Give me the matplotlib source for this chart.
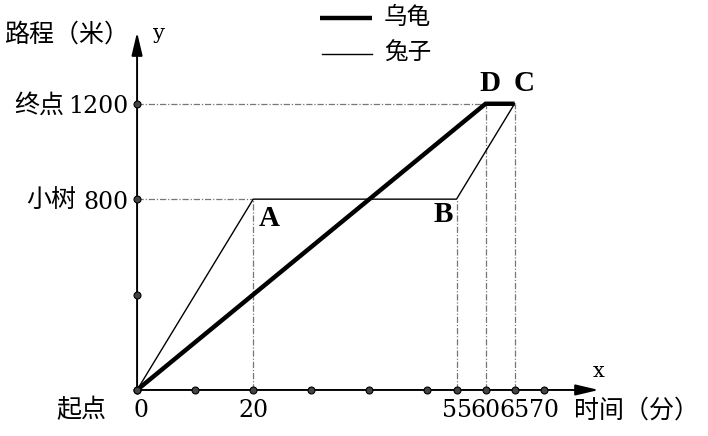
import matplotlib.pyplot as plt

plt.rcParams['font.family'] = ['Noto Sans CJK SC', 'DejaVu Sans']

# data
tortoise_t = [0, 60, 65]
tortoise_s = [0, 1200, 1200]
rabbit_t = [0, 20, 55, 65]
rabbit_s = [0, 800, 800, 1200]
x_dots = [0, 10, 20, 30, 40, 50, 55, 60, 65, 70]
y_dots = [0, 400, 800, 1200]
x_ticks = [20, 55, 60, 65, 70]
y_ticks = [1200, 800]
y_names = ['终点', '小树']

fig = plt.figure(figsize=(7.08, 4.36), dpi=100)
ax = fig.add_axes([0, 0, 1, 1])
ax.set_xlim(-23.6, 98.3)
ax.set_ylim(-193, 1635)
ax.axis('off')

# guide lines
guide = dict(color='#777777', lw=0.9, ls=(0, (5, 1.5, 1, 1.5)), zorder=1)
ax.plot([0, 65], [1200, 1200], **guide)
ax.plot([0, 20], [800, 800], **guide)
for t, s in [(20, 800), (55, 800), (60, 1200), (65, 1200)]:
    ax.plot([t, t], [0, s], **guide)

# axes with arrows
arrow = dict(arrowstyle='-|>,head_length=1.4,head_width=0.33',
             color='black', lw=1.4, shrinkA=0, shrinkB=0)
ax.annotate('', xy=(79.5, 0), xytext=(0, 0), arrowprops=arrow)
ax.annotate('', xy=(0, 1500), xytext=(0, 0), arrowprops=arrow)

# series
ax.plot(tortoise_t, tortoise_s, color='black', lw=3.2, solid_capstyle='butt', zorder=3)
ax.plot(rabbit_t, rabbit_s, color='black', lw=1.0, zorder=3)

# dots
ax.plot(x_dots, [0] * len(x_dots), 'o', ms=5, mfc='#444444', mec='black', mew=0.8, zorder=4)
ax.plot([0] * len(y_dots), y_dots, 'o', ms=5, mfc='#444444', mec='black', mew=0.8, zorder=4)

# text
num_font = dict(family='DejaVu Serif', fontsize=17)
cn = 18
for t in x_ticks:
    ax.text(t, -88, str(t), ha='center', va='center', **num_font)
ax.text(0.7, -88, '0', ha='center', va='center', **num_font)
ax.text(-5.3, -85, '起点', ha='right', va='center', fontsize=cn)
ax.text(75.3, -85, '时间（分）', ha='left', va='center', fontsize=cn)
ax.text(-1.3, 1490, '路程（米）', ha='right', va='center', fontsize=cn)
ax.text(3.8, 1495, 'y', ha='center', va='center', family='DejaVu Serif', fontsize=15)
ax.text(79.5, 77, 'x', ha='center', va='center', family='DejaVu Serif', fontsize=15)
for s, name in zip(y_ticks, y_names):
    ax.text(-1.5, s - 12, str(s), ha='right', va='center', **num_font)
    ax.text(-12.6 if s == 1200 else -10.5, s - 8, name, ha='right', va='center', fontsize=cn)

letter_font = dict(family='Liberation Serif', fontsize=21, fontweight='bold')
ax.text(22.7, 720, 'A', ha='center', va='center', **letter_font)
ax.text(52.8, 735, 'B', ha='center', va='center', **letter_font)
ax.text(60.8, 1285, 'D', ha='center', va='center', **letter_font)
ax.text(66.6, 1285, 'C', ha='center', va='center', **letter_font)

# legend
ax.plot([31.5, 40.4], [1560, 1560], color='black', lw=3.2, solid_capstyle='butt')
ax.plot([31.8, 40.4], [1410, 1410], color='black', lw=1.0)
ax.text(42.5, 1560, '乌龟', ha='left', va='center', fontsize=17)
ax.text(42.5, 1410, '兔子', ha='left', va='center', fontsize=17)

fig.savefig('out.png', dpi=100)
